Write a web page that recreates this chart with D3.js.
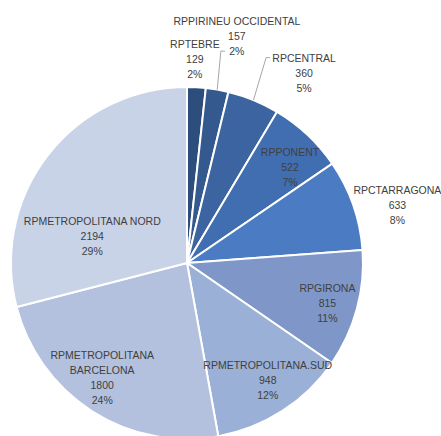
<!DOCTYPE html>
<html>
<head>
<meta charset="utf-8">
<script src="https://cdn.jsdelivr.net/npm/d3@7"></script>
<style>
  body { margin: 0; background: #fff; }
  text { font-family: "Liberation Sans", Arial, sans-serif; }
</style>
</head>
<body>
<div id="chart"></div>
<script>
// dades
const regions = ["RPTEBRE", "RPPIRINEU OCCIDENTAL", "RPCENTRAL", "RPPONENT", "RPCTARRAGONA",
  "RPGIRONA", "RPMETROPOLITANA.SUD", "RPMETROPOLITANA BARCELONA", "RPMETROPOLITANA NORD"];
const values = [129, 157, 360, 522, 633, 815, 948, 1800, 2194];
const percents = ["2%", "2%", "5%", "7%", "8%", "11%", "12%", "24%", "29%"];
const colors = ["#2d4e7c", "#34598e", "#3b64a1", "#416eb1", "#4a7bc3",
  "#7e97c8", "#9bb0d6", "#b3c1de", "#c9d3e7"];

// posició de les etiquetes: factor de radi i angle (graus, null = centre del sector)
const labelLayout = [
  { k: 1.16, a: 2.2 },
  { k: 1.32, a: 12.4, leader: true },
  { k: 1.27, a: 31.6, leader: true },
  { k: 0.80, a: 47 },
  { k: 1.24, a: 74.6 },
  { k: 0.83, a: 106 },
  { k: 0.81, a: 145.5 },
  { k: 0.81, a: 216.5 },
  { k: 0.56, a: 286 }
];

const width = 441, height = 436;
const cx = 187, cy = 263, radius = 176;
const lineH = 15;

const svg = d3.select("#chart").append("svg")
  .attr("width", width)
  .attr("height", height);

const g = svg.append("g").attr("transform", `translate(${cx},${cy})`);

const pie = d3.pie().sort(null).value(d => d);
const arcs = pie(values);
const arc = d3.arc().innerRadius(0).outerRadius(radius);

g.selectAll("path.slice")
  .data(arcs)
  .enter()
  .append("path")
  .attr("class", "slice")
  .attr("d", arc)
  .attr("fill", (d, i) => colors[i])
  .attr("stroke", "#fff")
  .attr("stroke-width", 2);

// línies i etiquetes
const polar = (k, deg) => {
  const t = deg * Math.PI / 180;
  return [k * radius * Math.sin(t), -k * radius * Math.cos(t)];
};

arcs.forEach((d, i) => {
  const lay = labelLayout[i];
  const [x, y] = polar(lay.k, lay.a);
  const lines = regions[i] === "RPMETROPOLITANA BARCELONA"
    ? ["RPMETROPOLITANA", "BARCELONA"]
    : [regions[i]];
  lines.push(String(values[i]), percents[i]);

  const top = y - (lines.length - 1) * lineH / 2;
  const t = g.append("text")
    .attr("text-anchor", "middle")
    .attr("font-size", 10.5)
    .attr("fill", "#404040");
  lines.forEach((s, j) => {
    t.append("tspan")
      .attr("x", x)
      .attr("y", top + j * lineH + 4)
      .text(s);
  });

  if (lay.leader) {
    const mid = (d.startAngle + d.endAngle) / 2 * 180 / Math.PI;
    const [ax, ay] = polar(1, mid);
    // s'uneix a la línia del text més proper
    const j = i === 1 ? 2 : 0;
    const ty = top + j * lineH;
    const w = i === 1 ? 9 : 31;
    const ex = x - w - 3;
    g.append("polyline")
      .attr("points", [[ax, ay], [ex - 4, ty], [ex, ty]].map(p => p.join(",")).join(" "))
      .attr("fill", "none")
      .attr("stroke", "#a6a6a6")
      .attr("stroke-width", 1);
  }
});
</script>
</body>
</html>
